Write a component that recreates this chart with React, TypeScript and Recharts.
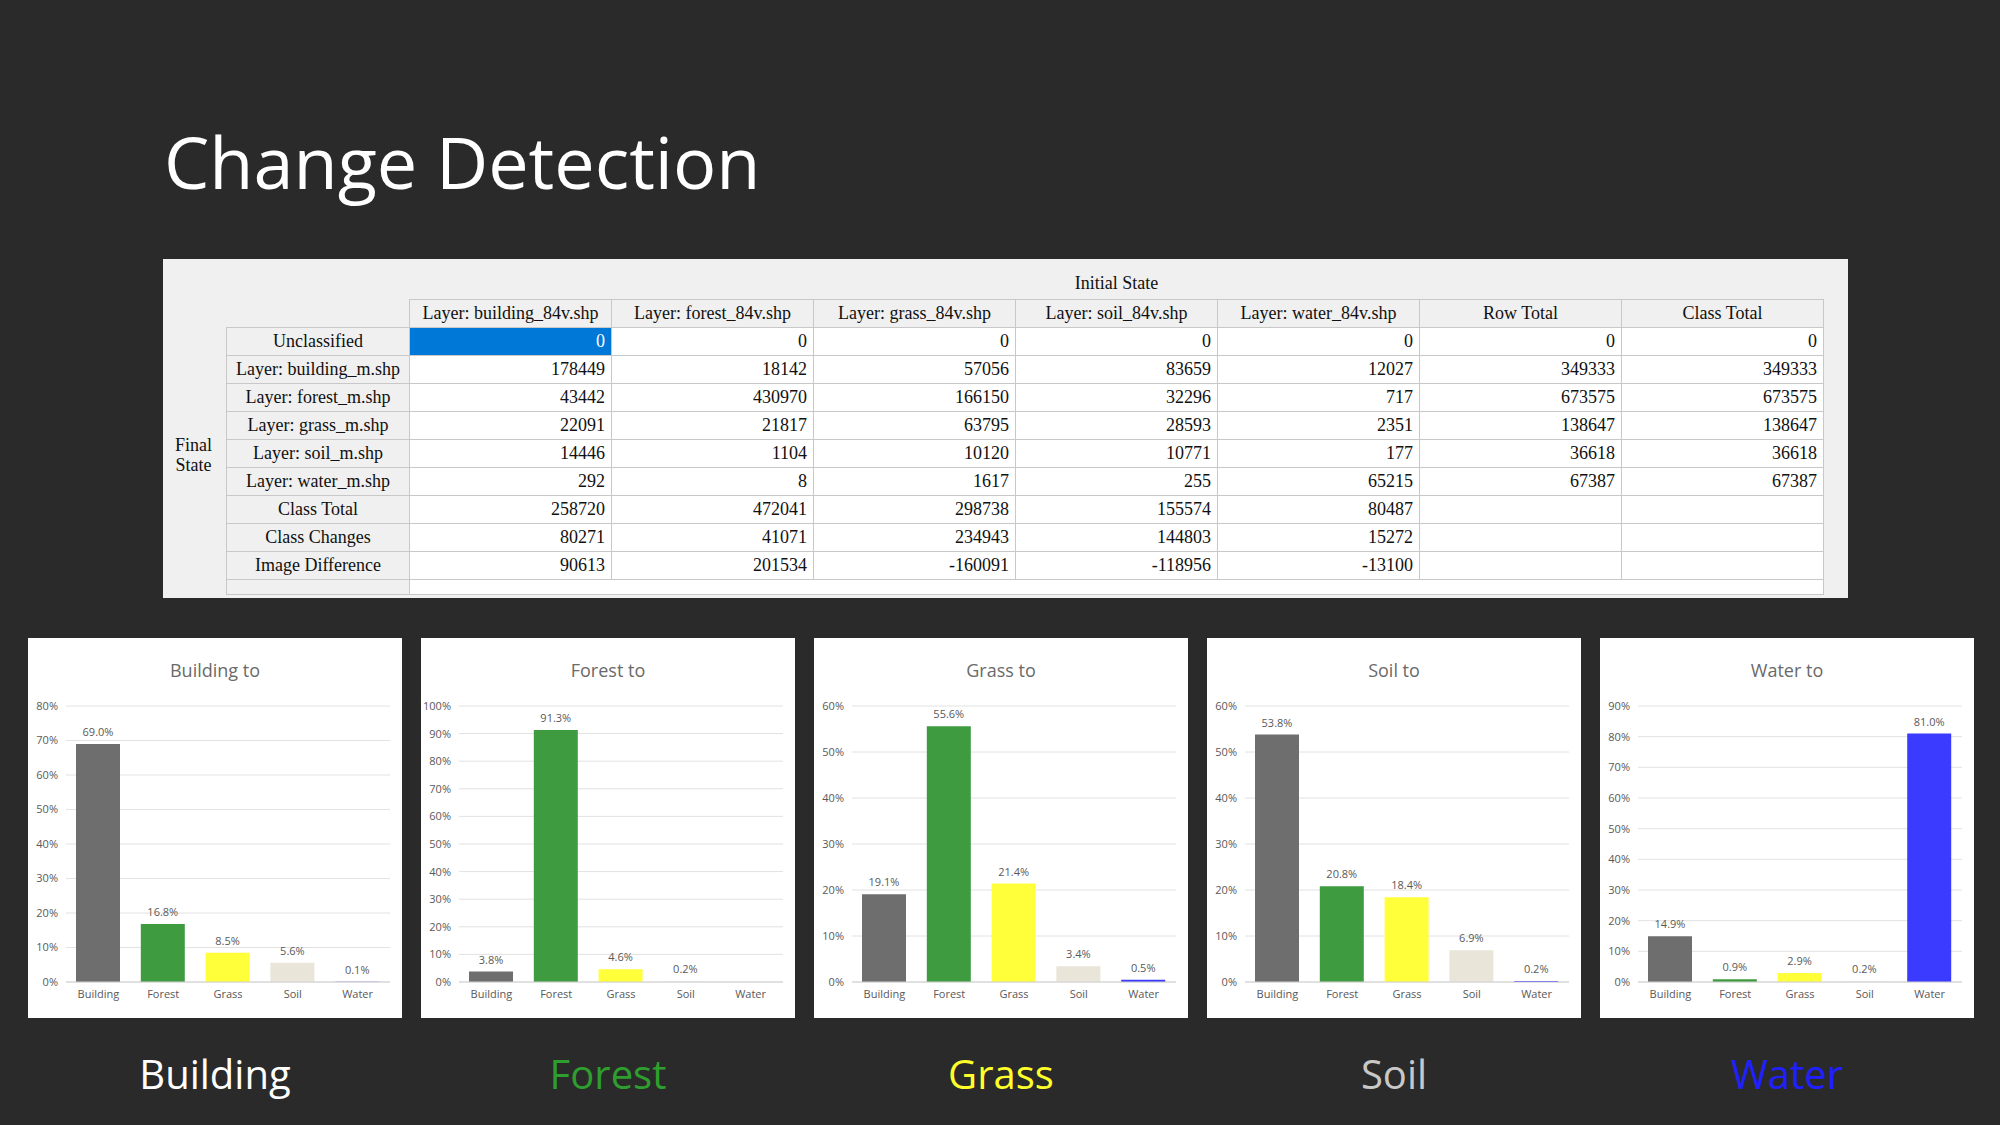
import React from "react";
import { BarChart, Bar, XAxis, YAxis, CartesianGrid, Cell } from "recharts";

const classes = ["Building", "Forest", "Grass", "Soil", "Water"];
const barColors = ["#6e6e6e", "#3f9b3f", "#ffff3a", "#e9e5d9", "#3b3bff"];
const labelColors = ["#ffffff", "#2e9e2e", "#ffff2a", "#c8c8c8", "#2020ff"];

const buildingTo = [69.0, 16.8, 8.5, 5.6, 0.1];
const forestTo = [3.8, 91.3, 4.6, 0.2, 0.0];
const grassTo = [19.1, 55.6, 21.4, 3.4, 0.5];
const soilTo = [53.8, 20.8, 18.4, 6.9, 0.2];
const waterTo = [14.9, 0.9, 2.9, 0.2, 81.0];
const chartMax = [80, 100, 60, 60, 90];

const colHeaders = ["Layer: building_84v.shp", "Layer: forest_84v.shp", "Layer: grass_84v.shp", "Layer: soil_84v.shp", "Layer: water_84v.shp", "Row Total", "Class Total"];
const rowHeaders = ["Unclassified", "Layer: building_m.shp", "Layer: forest_m.shp", "Layer: grass_m.shp", "Layer: soil_m.shp", "Layer: water_m.shp", "Class Total", "Class Changes", "Image Difference"];
const tableRows: (string | number)[][] = [
  [0, 0, 0, 0, 0, 0, 0],
  [178449, 18142, 57056, 83659, 12027, 349333, 349333],
  [43442, 430970, 166150, 32296, 717, 673575, 673575],
  [22091, 21817, 63795, 28593, 2351, 138647, 138647],
  [14446, 1104, 10120, 10771, 177, 36618, 36618],
  [292, 8, 1617, 255, 65215, 67387, 67387],
  [258720, 472041, 298738, 155574, 80487, "", ""],
  [80271, 41071, 234943, 144803, 15272, "", ""],
  [90613, 201534, -160091, -118956, -13100, "", ""],
];

const seriesList = [buildingTo, forestTo, grassTo, soilTo, waterTo];

const renderLabel = (props: any) => {
  const { x, y, width, value } = props;
  return (
    <text x={Number(x) + Number(width) / 2} y={Number(y) - 8} textAnchor="middle" fontSize={11} fill="#595959" fontFamily="Open Sans">
      {`${Number(value).toFixed(1)}%`}
    </text>
  );
};

function MiniChart({ idx }: { idx: number }) {
  const data = classes.map((c, i) => ({ name: c, value: seriesList[idx][i] }));
  const max = chartMax[idx];
  const ticks: number[] = [];
  for (let t = 0; t <= max; t += 10) ticks.push(t);
  return (
    <div style={{ position: "absolute", left: 28 + idx * 393, top: 638, width: 374, height: 380, background: "#fff" }}>
      <div style={{ position: "absolute", top: 20, width: "100%", textAlign: "center", fontFamily: "Open Sans", fontSize: 18, color: "#6a6a6a" }}>
        {classes[idx]} to
      </div>
      <BarChart width={374} height={380} data={data} margin={{ top: 68, right: 12, left: -22, bottom: 6 }}>
        <CartesianGrid vertical={false} stroke="#e2e2e2" />
        <XAxis dataKey="name" tickLine={false} axisLine={{ stroke: "#d0d0d0" }} tick={{ fontSize: 11, fill: "#595959", fontFamily: "Open Sans" }} />
        <YAxis domain={[0, max]} ticks={ticks} tickFormatter={(v) => `${v}%`} axisLine={false} tickLine={false} tick={{ fontSize: 11, fill: "#595959", fontFamily: "Open Sans" }} />
        <Bar dataKey="value" isAnimationActive={false} barSize={44} label={renderLabel}>
          {data.map((_, i) => <Cell key={i} fill={barColors[i]} />)}
        </Bar>
      </BarChart>
    </div>
  );
}

const cell: React.CSSProperties = { border: "1px solid #c8c8c8", padding: "0 6px", height: 27, whiteSpace: "nowrap" };

export default function App() {
  return (
    <div style={{ position: "fixed", left: 0, top: 0, width: 2000, height: 1125, background: "#2a2a2a", overflow: "hidden" }}>
      <div style={{ position: "absolute", left: 164, top: 112, fontFamily: "Open Sans", fontSize: 72, color: "#fff" }}>Change Detection</div>
      <div style={{ position: "absolute", left: 163, top: 259, width: 1685, height: 339, background: "#f0f0f0", fontFamily: "Liberation Serif", fontSize: 18, color: "#111" }}>
        <table style={{ borderCollapse: "collapse", position: "absolute", left: 63, top: 8 }}>
          <tbody>
            <tr>
              <td style={{ height: 30 }} />
              <td colSpan={7} style={{ textAlign: "center", height: 30 }}>Initial State</td>
            </tr>
            <tr>
              <td />
              {colHeaders.map((h) => <td key={h} style={{ ...cell, width: 189, textAlign: "center" }}>{h}</td>)}
            </tr>
            {rowHeaders.map((r, ri) => (
              <tr key={r}>
                <td style={{ ...cell, width: 170, textAlign: "center" }}>{r}</td>
                {tableRows[ri].map((v, ci) => (
                  <td key={ci} style={{ ...cell, textAlign: "right", background: ri === 0 && ci === 0 ? "#0078d7" : "#fff", color: ri === 0 && ci === 0 ? "#fff" : "#111" }}>{v}</td>
                ))}
              </tr>
            ))}
            <tr>
              <td style={{ ...cell, height: 14 }} />
              <td colSpan={7} style={{ ...cell, height: 14, background: "#fff" }} />
            </tr>
          </tbody>
        </table>
        <div style={{ position: "absolute", left: 12, top: 176, textAlign: "center", lineHeight: "20px" }}>Final<br />State</div>
      </div>
      {classes.map((_, i) => <MiniChart key={i} idx={i} />)}
      {classes.map((c, i) => (
        <div key={c} style={{ position: "absolute", left: 28 + i * 393, width: 374, top: 1046, textAlign: "center", fontFamily: "Open Sans", fontSize: 40, color: labelColors[i] }}>{c}</div>
      ))}
    </div>
  );
}
